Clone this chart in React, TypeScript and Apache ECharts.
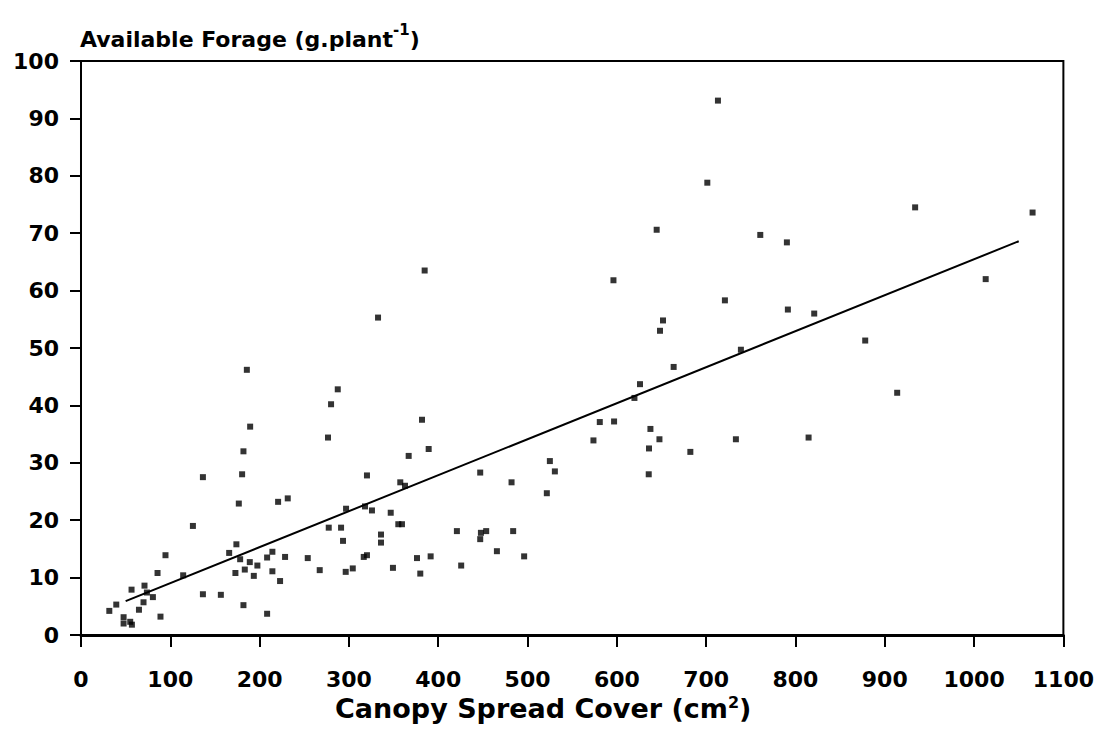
import React, { useEffect, useRef } from "react";
import * as echarts from "echarts";

// Canopy spread cover (cm^2)
const canopy: number[] = [
  31.7, 39.5, 47.7, 47.7, 55.1, 57.0, 56.6, 64.9, 70.0, 71.1, 73.8, 80.5, 89.0, 85.7, 94.6,
  114.4, 125.3, 136.5, 136.5, 156.6, 165.9, 174.0, 172.9, 176.7, 180.4, 181.9, 185.7, 189.4,
  178.2, 183.4, 181.9, 189.0, 193.5, 197.5, 208.4, 214.3, 214.3, 208.4, 220.7, 231.5, 228.5,
  222.9, 253.9, 267.3, 276.6, 280.0, 287.5, 277.4, 291.2, 293.4, 296.8, 296.4, 304.3, 318.0,
  320.2, 325.8, 316.6, 320.2, 332.6, 335.9, 335.9, 346.8, 349.3, 355.3, 359.4, 357.5, 362.8,
  366.9, 376.2, 379.9, 381.8, 384.8, 389.3, 391.5, 420.9, 425.7, 447.0, 447.0, 447.8, 453.7,
  465.7, 482.1, 483.9, 496.2, 521.6, 525.0, 530.6, 713.2, 701.3, 644.6, 760.6, 790.4, 596.2,
  721.0, 791.5, 651.7, 648.3, 738.9, 663.6, 625.9, 619.7, 580.9, 596.9, 637.6, 573.8, 647.7,
  733.3, 636.0, 682.3, 934.0, 1065.5, 821.0, 1013.0, 878.1, 913.9, 814.7, 635.7,
];

// Available forage (g.plant^-1)
const forage: number[] = [
  4.2, 5.3, 3.1, 2.0, 2.3, 1.8, 7.9, 4.4, 5.7, 8.6, 7.4, 6.6, 3.2, 10.8, 13.9,
  10.4, 19.0, 27.5, 7.1, 7.0, 14.3, 15.8, 10.8, 22.9, 28.0, 32.0, 46.2, 36.3,
  13.2, 11.4, 5.2, 12.7, 10.3, 12.1, 13.5, 14.5, 11.1, 3.7, 23.2, 23.8, 13.6,
  9.4, 13.4, 11.3, 34.4, 40.2, 42.8, 18.7, 18.7, 16.4, 22.0, 11.0, 11.6, 22.4,
  27.8, 21.7, 13.6, 13.9, 55.3, 17.5, 16.1, 21.3, 11.7, 19.3, 19.3, 26.6, 26.0,
  31.2, 13.4, 10.7, 37.5, 63.5, 32.4, 13.7, 18.1, 12.1, 28.3, 16.7, 17.8, 18.1,
  14.6, 26.6, 18.1, 13.7, 24.7, 30.3, 28.5, 93.1, 78.8, 70.6, 69.7, 68.4, 61.8,
  58.3, 56.7, 54.8, 53.0, 49.7, 46.7, 43.7, 41.3, 37.1, 37.2, 35.9, 33.9, 34.1,
  34.1, 32.5, 31.9, 74.5, 73.6, 56.0, 62.0, 51.3, 42.2, 34.4, 28.0,
];

// Fitted regression line end points
const fitX: number[] = [50, 1050];
const fitY: number[] = [5.9, 68.6];

const xTicks = { min: 0, max: 1100, interval: 100 };
const yTicks = { min: 0, max: 100, interval: 10 };

const FONT = "DejaVu Sans";

export default function App() {
  const ref = useRef<HTMLDivElement>(null);

  useEffect(() => {
    if (!ref.current) return;
    const chart = echarts.init(ref.current, undefined, { renderer: "svg" });
    const points = canopy.map((x, i) => [x, forage[i]]);
    const fit = fitX.map((x, i) => [x, fitY[i]]);

    chart.setOption({
      animation: false,
      backgroundColor: "#ffffff",
      grid: {
        left: 81,
        top: 61,
        right: 33,
        bottom: 96,
        show: true,
        borderColor: "#000",
        borderWidth: 2,
      },
      xAxis: {
        type: "value",
        min: xTicks.min,
        max: xTicks.max,
        interval: xTicks.interval,
        axisLine: { show: true, lineStyle: { color: "#000", width: 3 } },
        axisTick: { show: true, length: 12, lineStyle: { color: "#000", width: 2 } },
        axisLabel: {
          margin: 33,
          color: "#000",
          fontFamily: FONT,
          fontWeight: "bold",
          fontSize: 22,
          lineHeight: 22,
          showMaxLabel: true,
          formatter: (v: number) => String(v),
        },
        splitLine: { show: false },
      },
      yAxis: {
        type: "value",
        min: yTicks.min,
        max: yTicks.max,
        interval: yTicks.interval,
        axisLine: { show: true, lineStyle: { color: "#000", width: 2 } },
        axisTick: { show: true, length: 11, lineStyle: { color: "#000", width: 2 } },
        axisLabel: {
          margin: 22,
          color: "#000",
          fontFamily: FONT,
          fontWeight: "bold",
          fontSize: 22,
          formatter: (v: number) => String(v),
        },
        splitLine: { show: false },
      },
      graphic: [
        {
          type: "text",
          left: 80,
          top: 22,
          style: {
            text: "{a|Available Forage (g.plant}{s|-1}{a|)}",
            fill: "#000",
            rich: {
              a: { fontFamily: FONT, fontWeight: "bold", fontSize: 22, lineHeight: 28, verticalAlign: "bottom", fill: "#000" },
              s: { fontFamily: FONT, fontWeight: "bold", fontSize: 15, lineHeight: 15, verticalAlign: "top", fill: "#000" },
            },
          },
        },
        {
          type: "text",
          left: 335,
          top: 694,
          style: {
            text: "{a|Canopy Spread Cover (cm}{s|2}{a|)}",
            fill: "#000",
            rich: {
              a: { fontFamily: FONT, fontWeight: "bold", fontSize: 27, lineHeight: 28, verticalAlign: "bottom", fill: "#000" },
              s: { fontFamily: FONT, fontWeight: "bold", fontSize: 16, lineHeight: 16, verticalAlign: "top", fill: "#000" },
            },
          },
        },
      ],
      series: [
        {
          type: "scatter",
          data: points,
          symbol: "rect",
          symbolSize: 6,
          itemStyle: { color: "#000" },
        },
        {
          type: "line",
          data: fit,
          showSymbol: false,
          symbol: "none",
          lineStyle: { color: "#000", width: 2 },
        },
      ],
    });

    return () => chart.dispose();
  }, []);

  return (
    <div
      ref={ref}
      style={{ position: "absolute", left: 0, top: 0, width: 1097, height: 731 }}
    />
  );
}
